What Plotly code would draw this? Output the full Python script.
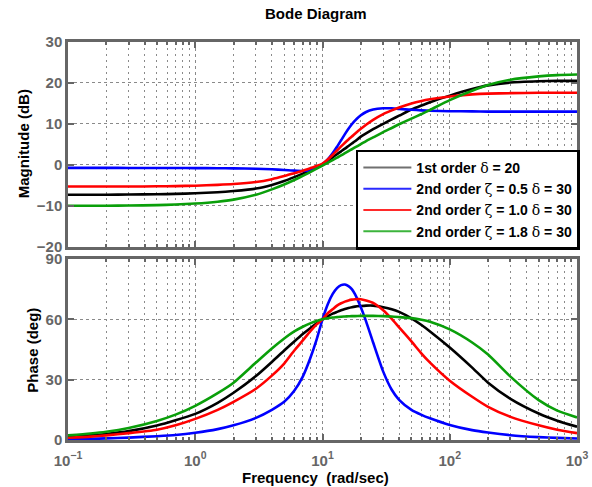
import plotly.graph_objects as go

# ---------------- data ----------------
freq = [0.1, 0.15, 0.2, 0.3, 0.5, 0.7, 1, 1.5, 2, 3, 4, 5, 6, 7, 8, 9,
        10, 11, 12, 13, 14, 15, 16, 17, 18, 20, 22, 25, 30, 35, 40,
        50, 60, 70, 100, 150, 200, 300, 500, 700, 1000]

G = '<span style="font-family:DejaVu Serif;font-weight:normal">%s</span>'
series_names = ["1st order " + G % "\u03b4" + " = 20",
                "2nd order " + G % "\u03b6" + " = 0.5 " + G % "\u03b4" + " = 30",
                "2nd order " + G % "\u03b6" + " = 1.0 " + G % "\u03b4" + " = 30",
                "2nd order " + G % "\u03b6" + " = 1.8 " + G % "\u03b4" + " = 30"]

mag_1st = [-7.3, -7.3, -7.3, -7.25, -7.2, -7.1, -6.95, -6.7, -6.4, -5.8, -4.9, -3.95, -3.0, -2.15, -1.35, -0.6,
           0.1, 0.95, 1.8, 2.6, 3.3, 3.95, 4.6, 5.2, 5.75, 6.9, 7.7, 8.7, 10.0, 11.1, 12.0,
           13.5, 14.5, 15.3, 16.9, 18.5, 19.4, 20.1, 20.4, 20.5, 20.5]
mag_z05 = [-0.75, -0.75, -0.75, -0.76, -0.77, -0.78, -0.8, -0.83, -0.87, -0.97, -1.1, -1.25, -1.42, -1.5, -1.3, -0.7,
           0.1, 1.3, 2.8, 4.4, 6.0, 7.5, 8.8, 9.9, 10.8, 12.1, 12.9, 13.5, 13.8, 13.8, 13.65,
           13.45, 13.3, 13.2, 13.1, 13.05, 13.0, 13.0, 13.0, 13.0, 13.0]
mag_z10 = [-5.3, -5.3, -5.3, -5.3, -5.25, -5.2, -5.1, -4.9, -4.7, -4.2, -3.5, -2.75, -2.05, -1.45, -0.85, -0.3,
           0.3, 1.3, 2.4, 3.5, 4.5, 5.4, 6.2, 6.9, 7.6, 8.8, 9.8, 11.0, 12.4, 13.3, 14.0,
           15.0, 15.6, 16.0, 16.7, 17.2, 17.4, 17.5, 17.6, 17.6, 17.6]
mag_z18 = [-10.0, -10.0, -10.0, -9.95, -9.85, -9.7, -9.45, -9.0, -8.5, -7.3, -6.0, -4.8, -3.7, -2.7, -1.8, -0.95,
           -0.2, 0.5, 1.15, 1.75, 2.3, 2.85, 3.35, 3.8, 4.25, 5.05, 5.8, 6.7, 8.0, 9.0, 9.9,
           11.3, 12.4, 13.4, 15.8, 18.1, 19.5, 20.8, 21.6, 21.9, 22.05]

ph_1st = [1.6, 2.3, 3.0, 4.4, 7.2, 9.8, 13.0, 18.5, 23.5, 31.8, 38.8, 44.5, 49.0, 52.7, 55.6, 58.0,
          60.0, 61.5, 62.8, 63.7, 64.5, 65.1, 65.6, 66.0, 66.3, 66.6, 66.8, 66.8, 66.0, 65.0, 63.7,
          60.5, 57.2, 54.0, 46.0, 36.0, 28.5, 20.5, 13.2, 9.6, 6.6]
ph_z05 = [0.4, 0.6, 0.8, 1.2, 1.9, 2.5, 3.6, 5.4, 7.3, 11.0, 15.0, 19.0, 24.5, 31.5, 40.5, 50.0,
          60.0, 67.5, 72.5, 75.5, 77.0, 77.3, 76.5, 75.0, 72.5, 66.0, 59.0, 48.5, 34.0, 25.0, 20.0,
          15.0, 12.5, 10.8, 7.5, 4.9, 3.7, 2.4, 1.45, 1.05, 0.75]
ph_z10 = [1.15, 1.7, 2.3, 3.4, 5.1, 7.3, 10.5, 15.0, 19.0, 25.5, 32.0, 38.0, 44.5, 49.5, 54.0, 57.5,
          60.0, 63.0, 65.0, 66.8, 68.0, 68.8, 69.4, 69.8, 70.0, 70.0, 69.4, 68.2, 64.5, 60.2, 56.0,
          49.0, 43.0, 38.5, 29.5, 21.5, 16.5, 11.5, 7.3, 5.1, 3.4]
ph_z18 = [2.3, 3.2, 4.1, 6.0, 9.5, 12.6, 17.0, 23.3, 28.5, 38.5, 45.5, 50.5, 54.0, 56.3, 58.0, 59.2,
          60.0, 60.5, 60.9, 61.1, 61.3, 61.4, 61.5, 61.6, 61.6, 61.7, 61.7, 61.7, 61.6, 61.4, 61.1,
          60.6, 59.8, 58.8, 55.0, 48.5, 42.5, 31.5, 19.8, 14.6, 11.2]

x_tickvals = [0.1, 1, 10, 100, 1000]
x_ticktext = ["10<sup>\u22121</sup>", "10<sup>0</sup>", "10<sup>1</sup>", "10<sup>2</sup>", "10<sup>3</sup>"]
x_minor = [m * d for d in (0.1, 1, 10, 100) for m in range(2, 10)]

colors = ["#000000", "#0000ff", "#ff0000", "#0a9f0a"]
legend_colors = ["#707070", "#2a2aff", "#ff2a2a", "#3cb43c"]

mags = [mag_1st, mag_z05, mag_z10, mag_z18]
phases = [ph_1st, ph_z05, ph_z10, ph_z18]

# ---------------- figure ----------------
W, H = 592, 487
L, R, T, B = 68, 15.3, 42, 47
plot_w = W - L - R
plot_h = H - T - B

fig = go.Figure()
for name, c, m, p in zip(series_names, colors, mags, phases):
    fig.add_trace(go.Scatter(x=freq, y=m, mode="lines", name=name, showlegend=False,
                             line=dict(color=c, width=2.6, shape="spline", smoothing=0.6),
                             xaxis="x", yaxis="y"))
    fig.add_trace(go.Scatter(x=freq, y=p, mode="lines", name=name, showlegend=False,
                             line=dict(color=c, width=2.6, shape="spline", smoothing=0.6),
                             xaxis="x2", yaxis="y2"))
for name, c in zip(series_names, legend_colors):
    fig.add_trace(go.Scatter(x=[None], y=[None], mode="lines", name=name, showlegend=True,
                             line=dict(color=c, width=2), xaxis="x", yaxis="y"))

FONT = "Liberation Sans, Arial, Helvetica, sans-serif"
AX = "#666666"
GRID = "#8a8a8a"

def xax(show_labels, anchor):
    return dict(type="log", range=[-1, 3], anchor=anchor,
                showline=True, mirror="ticks", linecolor=AX, linewidth=2.5,
                ticks="inside", ticklen=6, tickwidth=1.5, tickcolor=AX,
                tickmode="array", tickvals=x_tickvals, ticktext=x_ticktext,
                showticklabels=show_labels, ticklabelstandoff=5,
                tickfont=dict(family=FONT, size=15, color=AX, weight="bold"),
                showgrid=True, gridcolor=GRID, griddash="dot", gridwidth=1,
                minor=dict(tickmode="array", tickvals=x_minor, ticks="inside", ticklen=3,
                           tickcolor=AX, showgrid=True, gridcolor=GRID, griddash="2px,4px",
                           gridwidth=1),
                zeroline=False)

def yax(rng, dtick, domain, anchor):
    return dict(range=rng, dtick=dtick, tick0=0, tickmode="linear", domain=domain, anchor=anchor,
                showline=True, mirror="ticks", linecolor=AX, linewidth=2.5,
                ticks="inside", ticklen=6, tickwidth=1.5, tickcolor=AX,
                tickfont=dict(family=FONT, size=15, color=AX, weight="bold"),
                showgrid=True, gridcolor=GRID, griddash="dot", gridwidth=1,
                zeroline=False)

fig.update_layout(
    width=W, height=H,
    margin=dict(l=L, r=R, t=T, b=B, autoexpand=False),
    paper_bgcolor="white", plot_bgcolor="white",
    xaxis=xax(False, "y"),
    xaxis2=dict(xax(True, "y2"), matches="x"),
    yaxis=yax([-20, 30], 10, [(440 - 246.7) / plot_h, 1], "x"),
    yaxis2=yax([0, 90], 30, [0, (440 - 259) / plot_h], "x2"),
    showlegend=True,
    legend=dict(x=(355.7 - L) / plot_w, y=(440 - 149.5) / plot_h, xanchor="left", yanchor="top",
                bgcolor="white", bordercolor="black", borderwidth=2.5,
                font=dict(family=FONT, size=14, color="black", weight="bold"),
                itemwidth=48, tracegroupgap=0),
    annotations=[
        dict(text="<b>Bode Diagram</b>", xref="paper", yref="paper",
             x=(315.8 - L) / plot_w, y=(440 - 14) / plot_h, xanchor="center", yanchor="middle",
             showarrow=False, font=dict(family=FONT, size=15, color="black")),
        dict(text="<b>Magnitude (dB)</b>", xref="paper", yref="paper", textangle=-90,
             x=(23.3 - L) / plot_w, y=(440 - 144) / plot_h, xanchor="center", yanchor="middle",
             showarrow=False, font=dict(family=FONT, size=15, color="black")),
        dict(text="<b>Phase (deg)</b>", xref="paper", yref="paper", textangle=-90,
             x=(31.7 - L) / plot_w, y=(440 - 350) / plot_h, xanchor="center", yanchor="middle",
             showarrow=False, font=dict(family=FONT, size=15, color="black")),
        dict(text="<b>Frequency  (rad/sec)</b>", xref="paper", yref="paper",
             x=(315.3 - L) / plot_w, y=(440 - 477.3) / plot_h, xanchor="center", yanchor="middle",
             showarrow=False, font=dict(family=FONT, size=15, color="black")),
    ],
)

fig.write_html("out.html")
